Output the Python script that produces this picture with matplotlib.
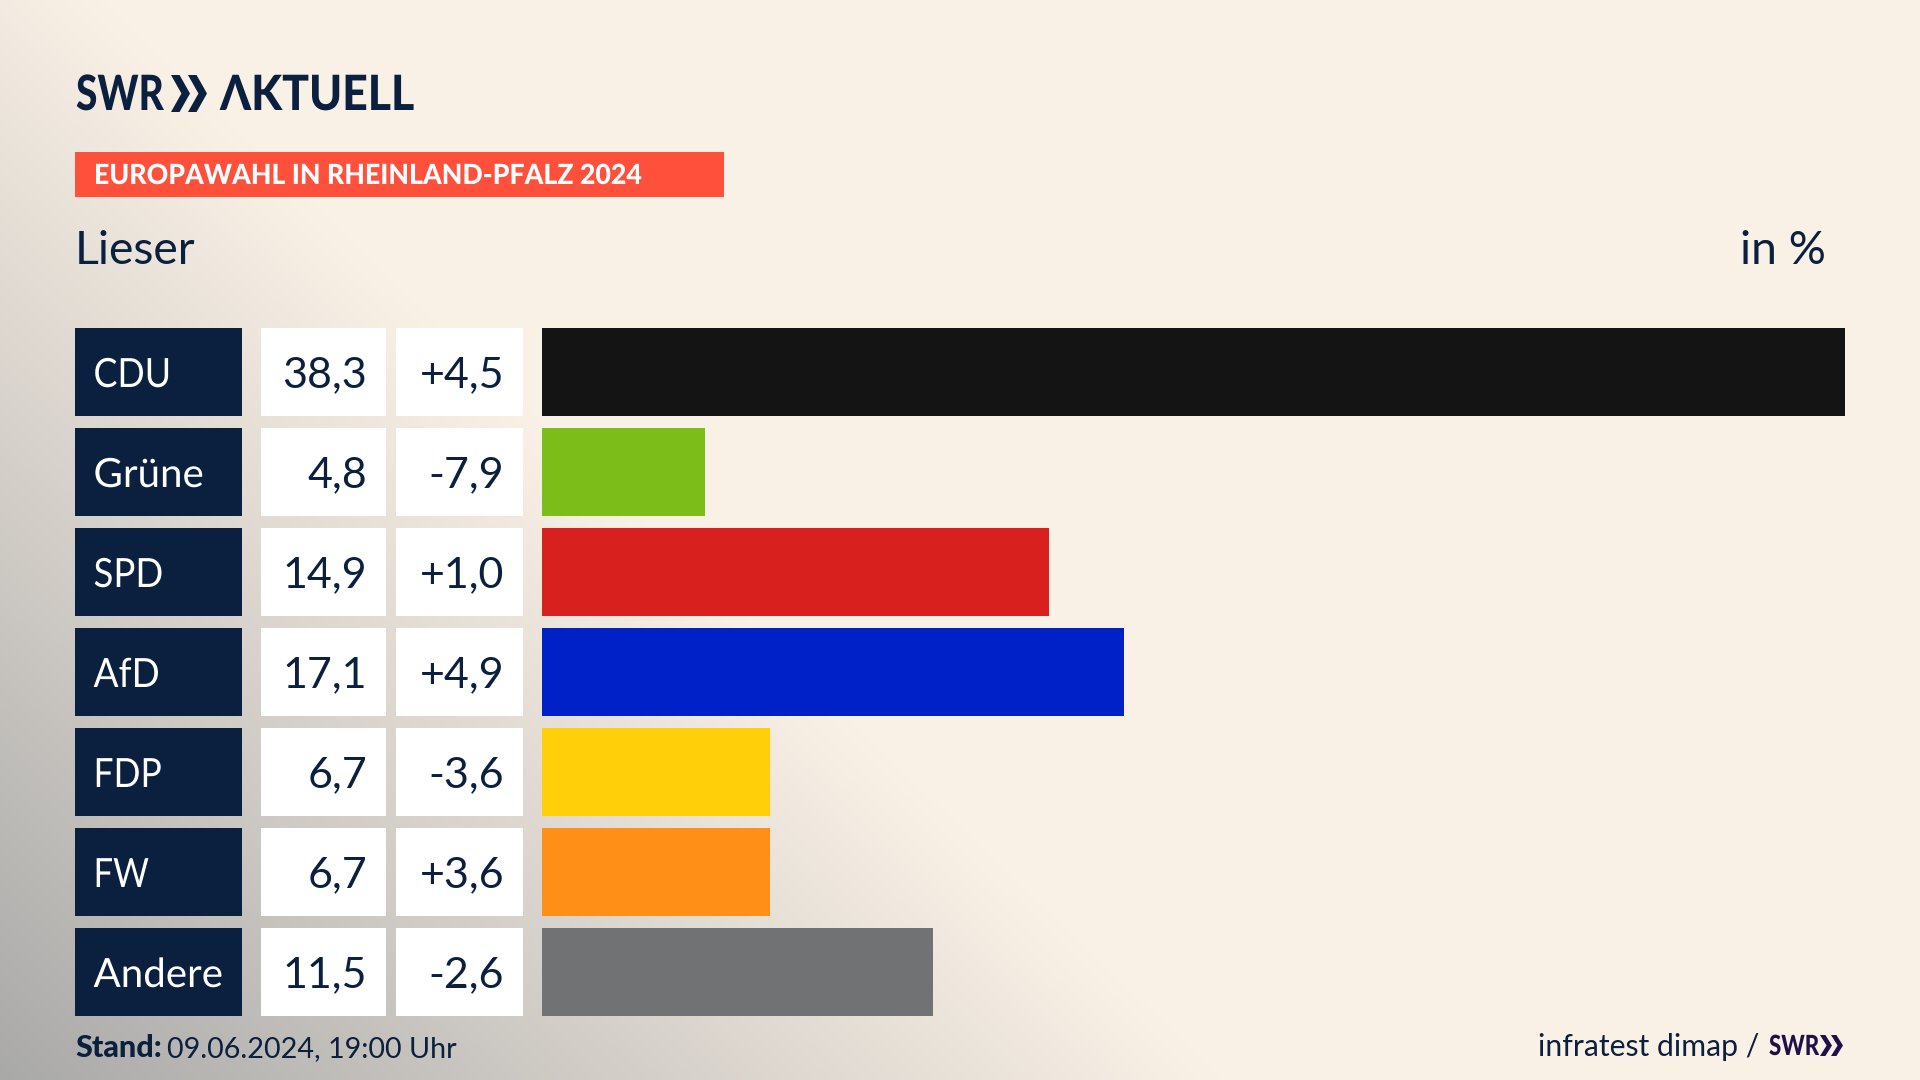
import numpy as np
import matplotlib
matplotlib.use('Agg')
import matplotlib.pyplot as plt
from matplotlib.patches import Rectangle, Polygon
from matplotlib.patheffects import AbstractPathEffect
from matplotlib.transforms import Affine2D

parties = ['CDU', 'Grüne', 'SPD', 'AfD', 'FDP', 'FW', 'Andere']
shares = [38.3, 4.8, 14.9, 17.1, 6.7, 6.7, 11.5]
changes = [4.5, -7.9, 1.0, 4.9, -3.6, 3.6, -2.6]
colors = ['#141414', '#7CBD1A', '#D8201E', '#0020C8', '#FFCF0A', '#FF8F16', '#717274']

navy = '#0B1F3E'
font = 'Lato'
# the capitals of Lato run wider than in the original
label_squeeze = [0.89, 1.0, 0.91, 0.92, 0.88, 0.86, 1.0]


class Squeeze(AbstractPathEffect):
    # narrows a text sideways, there is no condensed font installed
    def __init__(self, x0, sx):
        self.x0 = x0
        self.sx = sx

    def draw_path(self, renderer, gc, tpath, affine, rgbFace=None):
        squeeze = Affine2D().translate(-self.x0, 0).scale(self.sx, 1).translate(self.x0, 0)
        renderer.draw_path(gc, tpath, affine + squeeze, rgbFace)


fig = plt.figure(figsize=(19.2, 10.8), dpi=100)

# background axes in pixels of the picture
bg = fig.add_axes([0, 0, 1, 1])
bg.set_xlim(0, 1920)
bg.set_ylim(1080, 0)
bg.axis('off')

# beige with a grey diagonal glow out of the lower left corner
xx, yy = np.meshgrid(np.arange(0, 1920, 4), np.arange(0, 1080, 4))
glow = np.clip((100 + 1.04 * yy - xx) / 1223.0, 0, 1)[..., None]
base = np.array([250, 241, 230]) / 255.0
grey = np.array([169, 169, 168]) / 255.0
bg.imshow(base * (1 - glow) + grey * glow, extent=[0, 1920, 1080, 0], aspect='auto', zorder=0)


def chevrons(x, y, h, w, gap, color):
    for i in range(2):
        x0 = x + i * gap
        bg.add_patch(Polygon([(x0, y), (x0 + w * 0.45, y), (x0 + w, y + h / 2),
                              (x0 + w * 0.45, y + h), (x0, y + h), (x0 + w * 0.55, y + h / 2)],
                             closed=True, color=color, lw=0, zorder=3))


# logo
bg.text(76, 110, 'SWR', family=[font, 'DejaVu Sans'], weight='black', size=35, color=navy,
        va='baseline', path_effects=[Squeeze(76, 0.8)])
chevrons(171, 75, 37, 19, 17, navy)
bg.text(220, 110, 'ΛKTUELL', family=[font, 'DejaVu Sans'], weight='black', size=35, color=navy,
        va='baseline', path_effects=[Squeeze(220, 0.916)])

# header
bg.add_patch(Rectangle((75, 152), 649, 45, color='#FF503C', lw=0, zorder=2))
bg.text(94, 184, 'EUROPAWAHL IN RHEINLAND-PFALZ 2024', family=font, weight='black', size=20,
        color='white', va='baseline', zorder=3, path_effects=[Squeeze(94, 0.962)])
bg.text(75, 264, 'Lieser', family=font, size=33.4, color=navy, va='baseline')
bg.text(1826, 264, 'in %', family=font, size=33.4, color=navy, va='baseline', ha='right')

# table cells next to the bars
row_top = 328
row_step = 100
row_h = 88.3
for i, party in enumerate(parties):
    top = row_top + i * row_step
    base_y = top + 59
    bg.add_patch(Rectangle((75, top), 167, row_h, color=navy, lw=0, zorder=2))
    bg.add_patch(Rectangle((261, top), 125, row_h, color='white', lw=0, zorder=2))
    bg.add_patch(Rectangle((396, top), 127, row_h, color='white', lw=0, zorder=2))
    bg.text(93.5, base_y, party, family=font, size=29, color='white', va='baseline', zorder=3,
            path_effects=[Squeeze(93.5, label_squeeze[i])])
    bg.text(367, base_y, f'{shares[i]:.1f}'.replace('.', ','), family=font, size=31, color=navy,
            ha='right', va='baseline', zorder=3)
    bg.text(504, base_y, f'{changes[i]:+.1f}'.replace('.', ','), family=font, size=31, color=navy,
            ha='right', va='baseline', zorder=3)

# bars
ax = fig.add_axes([542 / 1920, 1 - 1016.3 / 1080, (1845 - 542) / 1920, 688.3 / 1080])
ax.patch.set_alpha(0)
ax.barh(range(len(parties)), shares, height=0.883, color=colors)
ax.set_xlim(0, max(shares))
ax.set_ylim(6.4415, -0.4415)
ax.axis('off')

# footer
bg.text(75, 1057, 'Stand:', family=font, weight='black', size=22, color=navy, va='baseline')
bg.text(167, 1057, '09.06.2024, 19:00 Uhr', family=font, size=20.7, color=navy, va='baseline')
bg.text(1759, 1056, 'infratest dimap /', family=font, size=21.7, color=navy, va='baseline', ha='right')
bg.text(1769, 1055, 'SWR', family=font, weight='black', size=20, color='#20104A', va='baseline',
        path_effects=[Squeeze(1769, 0.8)])
chevrons(1820, 1035, 21, 12, 11, '#20104A')

fig.savefig('out.png', dpi=100)
